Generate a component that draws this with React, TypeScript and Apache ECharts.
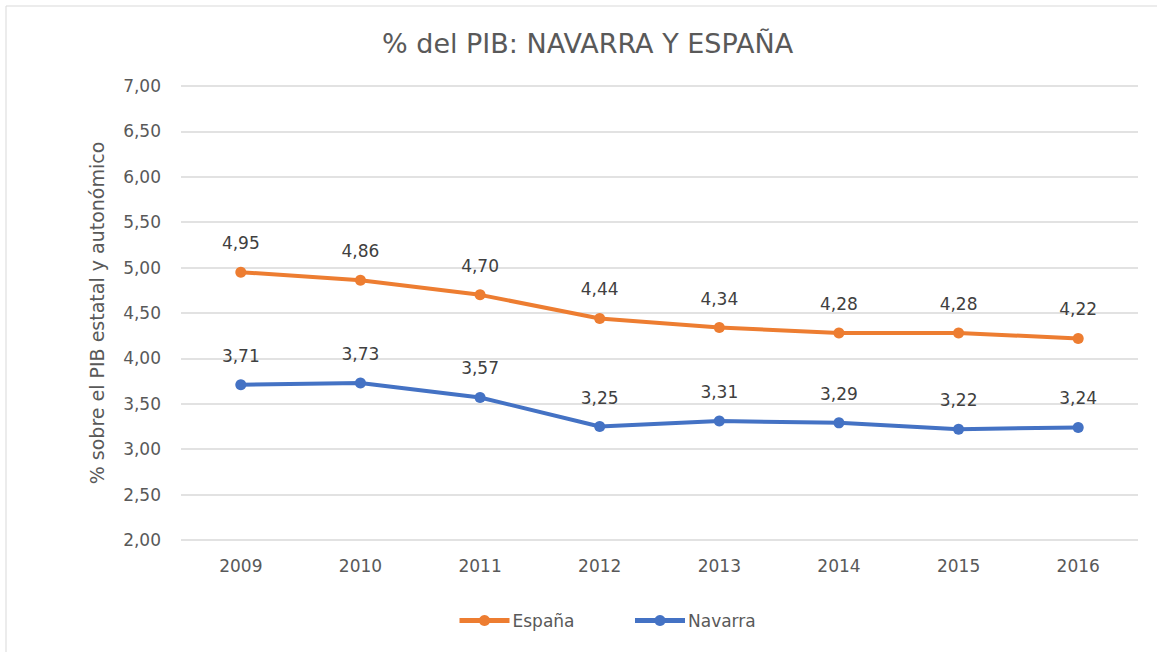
import React, { useEffect, useRef } from "react";
import * as echarts from "echarts";

const years = ["2009", "2010", "2011", "2012", "2013", "2014", "2015", "2016"];
const espana = [4.95, 4.86, 4.7, 4.44, 4.34, 4.28, 4.28, 4.22];
const navarra = [3.71, 3.73, 3.57, 3.25, 3.31, 3.29, 3.22, 3.24];

const FONT = "'DejaVu Sans', sans-serif";
const fmt = (v: number) => v.toFixed(2).replace(".", ",");

export default function App() {
  const ref = useRef<HTMLDivElement>(null);
  useEffect(() => {
    document.body.style.margin = "0";
    const chart = echarts.init(ref.current!, null, { renderer: "svg" });
    const mkSeries = (name: string, data: number[], color: string) => ({
      name,
      type: "line",
      data,
      symbol: "circle",
      symbolSize: 11,
      lineStyle: { width: 4, color },
      itemStyle: { color },
      label: {
        show: true,
        position: "top",
        distance: 15,
        color: "#404040",
        fontSize: 17,
        fontFamily: FONT,
        formatter: (p: any) => fmt(p.value),
      },
    });
    chart.setOption({
      animation: false,
      backgroundColor: "#ffffff",
      graphic: [
        {
          type: "rect",
          shape: { x: 6, y: 6, width: 1300, height: 800 },
          style: { fill: "none", stroke: "#d9d9d9", lineWidth: 1 },
          silent: true,
        },
      ],
      title: {
        text: "% del PIB: NAVARRA Y ESPAÑA",
        left: 377,
        top: 25,
        textStyle: { fontSize: 27, fontWeight: "normal", color: "#595959", fontFamily: FONT },
      },
      legend: {
        bottom: 18,
        left: 452,
        itemWidth: 50,
        itemHeight: 14,
        itemGap: 58,
        lineStyle: { width: 5 },
        textStyle: { fontSize: 17, color: "#595959", fontFamily: FONT, padding: [0, 0, 0, -2] },
        data: ["España", "Navarra"],
      },
      grid: { left: 181, right: 19, top: 86, bottom: 112 },
      xAxis: {
        type: "category",
        data: years,
        boundaryGap: true,
        axisLine: { show: false },
        axisTick: { show: false },
        axisLabel: { color: "#595959", fontSize: 17, fontFamily: FONT, margin: 17 },
      },
      yAxis: {
        type: "value",
        min: 2,
        max: 7,
        interval: 0.5,
        name: "% sobre el PIB estatal y autonómico",
        nameLocation: "middle",
        nameGap: 75,
        nameTextStyle: { fontSize: 19, color: "#595959", fontFamily: FONT },
        axisLine: { show: false },
        axisTick: { show: false },
        splitLine: { lineStyle: { color: "#d9d9d9", width: 1.5 } },
        axisLabel: {
          color: "#595959",
          fontSize: 17,
          fontFamily: FONT,
          margin: 20,
          formatter: (v: number) => fmt(v),
        },
      },
      series: [mkSeries("España", espana, "#ED7D31"), mkSeries("Navarra", navarra, "#4472C4")],
    });
    return () => chart.dispose();
  }, []);
  return <div ref={ref} style={{ width: 1157, height: 652 }} />;
}
